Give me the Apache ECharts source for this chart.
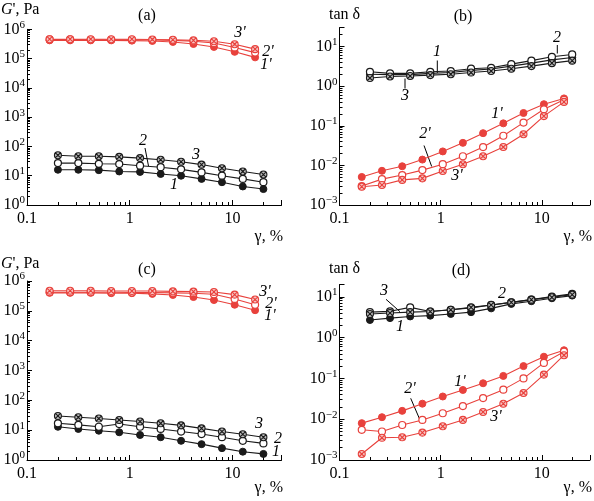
<!DOCTYPE html>
<html><head><meta charset="utf-8">
<script src="https://cdn.jsdelivr.net/npm/echarts@6/dist/echarts.min.js"></script>
<style>html,body{margin:0;padding:0;background:#fff}#c{width:594px;height:501px}</style>
</head><body><div id="c"></div>
<script>
// strain amplitude, %
const xBlack = [0.2, 0.316, 0.5, 0.79, 1.26, 2, 3.16, 5, 7.9, 12.6, 20];
const xRed = [0.166, 0.263, 0.417, 0.66, 1.05, 1.66, 2.63, 4.17, 6.6, 10.5, 16.6];
// (a) G', Pa
const a1 = [16, 16, 15.5, 14, 13.5, 11.5, 10, 7.8, 6, 4.3, 3.5];
const a2 = [27, 27, 25.5, 25, 22, 19.5, 16.5, 13, 10, 7.8, 6];
const a3 = [50, 46, 46, 44, 40, 35, 30, 24, 18, 14, 11];
const a1r = [4.2e5, 4.2e5, 4.2e5, 4.2e5, 4.1e5, 4.0e5, 3.7e5, 3.15e5, 2.5e5, 1.7e5, 1.1e5];
const a2r = [4.5e5, 4.5e5, 4.4e5, 4.4e5, 4.4e5, 4.3e5, 4.2e5, 3.9e5, 3.4e5, 2.4e5, 1.6e5];
const a3r = [4.6e5, 4.6e5, 4.6e5, 4.6e5, 4.6e5, 4.5e5, 4.4e5, 4.2e5, 3.9e5, 3.1e5, 2.1e5];
// (b) tan delta
const b1 = [2.0, 1.95, 1.95, 2.1, 2.2, 2.5, 2.7, 3.2, 3.8, 4.6, 5.3];
const b2 = [2.3, 2.1, 2.1, 2.3, 2.4, 2.75, 2.9, 3.6, 4.4, 5.5, 6.3];
const b3 = [1.6, 1.75, 1.8, 1.9, 2.0, 2.2, 2.4, 2.75, 3.2, 3.8, 4.4];
const b1r = [5.1e-3, 7.3e-3, 9.5e-3, 1.4e-2, 2.25e-2, 3.7e-2, 6.5e-2, 0.115, 0.21, 0.35, 0.49];
const b2r = [3.0e-3, 4.5e-3, 5.7e-3, 7.6e-3, 1.07e-2, 1.7e-2, 2.9e-2, 5.6e-2, 0.12, 0.26, 0.45];
const b3r = [2.9e-3, 3.2e-3, 4.3e-3, 4.7e-3, 7.2e-3, 1.07e-2, 1.7e-2, 2.9e-2, 6.1e-2, 0.175, 0.4];
// (c) G', Pa
const c1 = [13, 11, 9.6, 8.5, 6.9, 5.8, 4.4, 3.4, 2.5, 1.9, 1.6];
const c2 = [17, 15, 13, 16, 13, 11, 9, 7.4, 5.8, 4.4, 3.6];
const c3 = [30, 27, 24.5, 22, 19.5, 17, 14.5, 11.5, 9, 7.3, 5.8];
const c1r = [4.0e5, 4.0e5, 4.0e5, 3.9e5, 3.9e5, 3.7e5, 3.4e5, 2.9e5, 2.3e5, 1.6e5, 1.05e5];
const c2r = [4.2e5, 4.2e5, 4.2e5, 4.2e5, 4.1e5, 4.1e5, 4.0e5, 3.9e5, 3.6e5, 2.5e5, 1.6e5];
const c3r = [4.7e5, 4.7e5, 4.7e5, 4.6e5, 4.6e5, 4.6e5, 4.5e5, 4.4e5, 4.3e5, 3.5e5, 2.4e5];
// (d) tan delta
const d1 = [2.7, 3.0, 3.3, 3.45, 3.8, 4.2, 5.2, 6.7, 7.8, 9.2, 10.7];
const d2 = [4.2, 4.4, 5.5, 4.35, 4.8, 5.35, 6.3, 7.3, 8.5, 10.1, 11.8];
const d3 = [3.8, 4.0, 4.2, 4.35, 4.8, 5.5, 6.3, 7.3, 8.5, 9.7, 11.3];
const d1r = [8e-3, 1.12e-2, 1.6e-2, 2.4e-2, 3.6e-2, 5.2e-2, 7.6e-2, 0.115, 0.2, 0.34, 0.49];
const d2r = [5.5e-3, 5.0e-3, 7.2e-3, 9.6e-3, 1.4e-2, 2.1e-2, 3.3e-2, 5.3e-2, 0.1, 0.24, 0.45];
const d3r = [1.4e-3, 3.5e-3, 3.6e-3, 4.7e-3, 6.7e-3, 9.6e-3, 1.5e-2, 2.4e-2, 4.4e-2, 0.124, 0.37];
// tick mantissas for the minor (2..9) log ticks
const minorMantissas = [2, 3, 4, 5, 6, 7, 8, 9];

const F = '"Liberation Serif","DejaVu Serif",serif';
const RED = '#e8413c', BLK = '#1a1a1a';
const CROSS = 'path://M10,0A10,10,0,1,1,-10,0A10,10,0,1,1,10,0ZM-7,-7L7,7M-7,7L7,-7';

const grids = [
  {left: 27, top: 29.3, width: 254.5, height: 175.7},
  {left: 339.5, top: 27.6, width: 250.5, height: 177.4},
  {left: 27, top: 281, width: 254.5, height: 179},
  {left: 339.5, top: 284.5, width: 250.5, height: 175.5}
];
const xRange = [0.1, 30];
const yRanges = [[1, 1e6], [1e-3, 30], [1, 1e6], [1e-3, 20]];

function minorVals(lo, hi) {
  const out = [];
  for (let e = Math.floor(Math.log10(lo)); e <= Math.ceil(Math.log10(hi)); e++) {
    minorMantissas.forEach(m => { const v = +(m * Math.pow(10, e)).toPrecision(6); if (v > lo && v < hi) out.push(v); });
  }
  return out;
}
function isPow(v) { const l = Math.log10(v); return Math.abs(l - Math.round(l)) < 1e-6; }
const base = {
  type: 'log', logBase: 10,
  axisLine: {show: true, lineStyle: {color: '#000', width: 1}},
  axisTick: {show: true, inside: true, length: 5, lineStyle: {color: '#000'}},
  minorTick: {show: false}, splitLine: {show: false}
};
const minorBase = {
  type: 'log', logBase: 10, axisLine: {show: false}, axisLabel: {show: false}, splitLine: {show: false}
};
const xAxes = [], yAxes = [];
grids.forEach((g, i) => {
  xAxes.push(Object.assign({}, base, {
    gridIndex: i, position: 'bottom', min: xRange[0], max: xRange[1],
    axisLabel: {color: '#000', fontFamily: F, fontSize: 16, margin: 6,
      formatter: v => isPow(v) ? String(v >= 1 ? Math.round(v) : v) : ''}
  }));
  yAxes.push(Object.assign({}, base, {
    gridIndex: i, position: 'left', min: yRanges[i][0], max: yRanges[i][1],
    axisLabel: {color: '#000', margin: 2,
      formatter: v => { if (!isPow(v)) return ''; const e = Math.round(Math.log10(v)); return '{b|10}{s|' + (e < 0 ? '\u2212' + (-e) : e) + '}'; },
      rich: {b: {fontFamily: F, fontSize: 16, color: '#000'}, s: {fontFamily: F, fontSize: 11, color: '#000', padding: [0, 0, 9, 0]}}}
  }));
});
grids.forEach((g, i) => {
  xAxes.push(Object.assign({}, minorBase, {
    gridIndex: i, position: 'bottom', offset: 0, min: xRange[0], max: xRange[1],
    axisTick: {show: true, inside: true, length: 3, lineStyle: {color: '#000'}, customValues: minorVals(xRange[0], xRange[1])}
  }));
  yAxes.push(Object.assign({}, minorBase, {
    gridIndex: i, position: 'left', offset: 0, min: yRanges[i][0], max: yRanges[i][1],
    axisTick: {show: true, inside: true, length: 3, lineStyle: {color: '#000'}, customValues: minorVals(yRanges[i][0], yRanges[i][1])}
  }));
});

function mk(gi, xs, ys, kind, col) {
  const s = {
    type: 'line', xAxisIndex: gi, yAxisIndex: gi,
    data: xs.map((x, k) => [x, ys[k]]),
    symbolSize: 7, showSymbol: true, animation: false,
    lineStyle: {color: col, width: 1.1},
    itemStyle: {color: col, borderColor: col, borderWidth: 1}
  };
  if (kind === 'open') { s.symbol = 'circle'; s.itemStyle = {color: '#fff', borderColor: col, borderWidth: 1.2}; }
  else if (kind === 'cross') { s.symbol = CROSS; s.itemStyle = {color: col === RED ? '#f7c4c2' : '#bbb', borderColor: col, borderWidth: 1.1}; }
  else { s.symbol = 'circle'; }
  return s;
}
const series = [
  mk(0, xBlack, a1, 'filled', BLK), mk(0, xBlack, a2, 'open', BLK), mk(0, xBlack, a3, 'cross', BLK),
  mk(0, xRed, a1r, 'filled', RED), mk(0, xRed, a2r, 'open', RED), mk(0, xRed, a3r, 'cross', RED),
  mk(1, xBlack, b1, 'filled', BLK), mk(1, xBlack, b2, 'open', BLK), mk(1, xBlack, b3, 'cross', BLK),
  mk(1, xRed, b1r, 'filled', RED), mk(1, xRed, b2r, 'open', RED), mk(1, xRed, b3r, 'cross', RED),
  mk(2, xBlack, c1, 'filled', BLK), mk(2, xBlack, c2, 'open', BLK), mk(2, xBlack, c3, 'cross', BLK),
  mk(2, xRed, c1r, 'filled', RED), mk(2, xRed, c2r, 'open', RED), mk(2, xRed, c3r, 'cross', RED),
  mk(3, xBlack, d1, 'filled', BLK), mk(3, xBlack, d2, 'open', BLK), mk(3, xBlack, d3, 'cross', BLK),
  mk(3, xRed, d1r, 'filled', RED), mk(3, xRed, d2r, 'open', RED), mk(3, xRed, d3r, 'cross', RED)
];

function txt(x, y, t, opts) {
  return {type: 'text', x: x, y: y, style: Object.assign({text: t, fill: '#000', font: '16px ' + F, align: 'center', verticalAlign: 'middle'}, opts || {})};
}
function itxt(x, y, t) { return txt(x, y, t, {font: 'italic 16px ' + F}); }
function ln(x1, y1, x2, y2) { return {type: 'line', shape: {x1: x1, y1: y1, x2: x2, y2: y2}, style: {stroke: '#000', lineWidth: 1}}; }
const richG = {rich: {i: {fontStyle: 'italic', fontFamily: F, fontSize: 16}, n: {fontFamily: F, fontSize: 16}}};
const graphic = [
  {type: 'text', x: 1, y: 10, style: Object.assign({text: '{i|G}{n|\', Pa}', align: 'left', verticalAlign: 'middle'}, richG)},
  {type: 'text', x: 1, y: 264, style: Object.assign({text: '{i|G}{n|\', Pa}', align: 'left', verticalAlign: 'middle'}, richG)},
  txt(329, 15, 'tan \u03b4', {align: 'left'}), txt(329, 269, 'tan \u03b4', {align: 'left'}),
  txt(147, 16, '(a)'), txt(463, 17, '(b)'), txt(147, 270, '(c)'), txt(461, 271, '(d)'),
  txt(283, 237, '\u03b3, %', {align: 'right'}), txt(592, 237, '\u03b3, %', {align: 'right'}),
  txt(283, 488, '\u03b3, %', {align: 'right'}), txt(592, 488, '\u03b3, %', {align: 'right'}),
  // (a)
  itxt(240, 33, "3'"), itxt(268, 52, "2'"), itxt(266, 65, "1'"),
  itxt(143, 141, '2'), ln(145, 148, 148.5, 166), itxt(196, 155, '3'), itxt(174, 185, '1'),
  // (b)
  itxt(557, 38, '2'), ln(557.3, 45, 557.3, 53.5), itxt(437, 52, '1'), ln(437.3, 60.5, 437.3, 73),
  itxt(405, 96, '3'), ln(405, 78.5, 405, 88.5),
  itxt(497, 114, "1'"), itxt(425, 134, "2'"), ln(424, 145.5, 431.7, 166.5), itxt(457, 176, "3'"),
  // (c)
  itxt(265, 292, "3'"), itxt(271, 304, "2'"), itxt(270, 316, "1'"),
  itxt(259, 424, '3'), itxt(278, 439, '2'), itxt(276, 452, '1'),
  // (d)
  itxt(384, 291, '3'), ln(386, 299.3, 400, 311.7), itxt(502, 294, '2'), itxt(400, 327, '1'),
  itxt(460, 382, "1'"), itxt(410, 389, "2'"), ln(410.7, 398.3, 420, 420), itxt(496, 417, "3'")
];

const chart = echarts.init(document.getElementById('c'), null, {renderer: 'canvas'});
chart.setOption({
  animation: false, backgroundColor: '#fff',
  grid: grids, xAxis: xAxes, yAxis: yAxes, series: series, graphic: graphic
});
</script></body></html>
